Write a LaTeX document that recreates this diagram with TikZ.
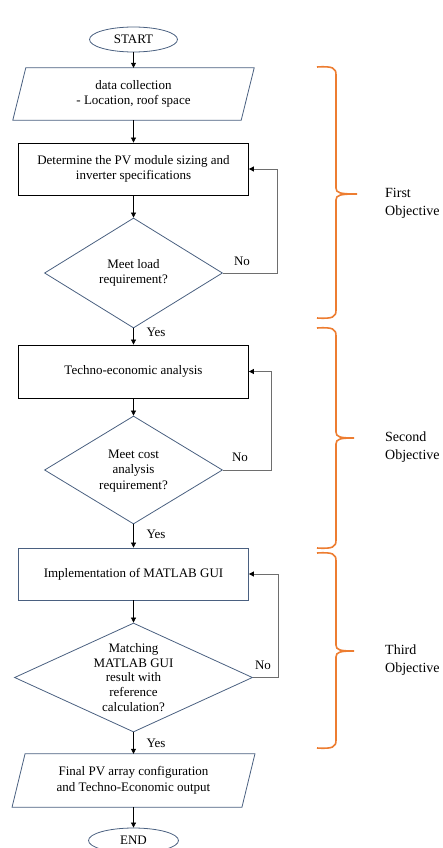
\documentclass[tikz,border=0pt]{standalone}
\usepackage{fontspec}
\setmainfont{Liberation Serif}
\usetikzlibrary{shapes.geometric,arrows.meta}
\definecolor{shapeblue}{RGB}{74,96,128}
\definecolor{loopgray}{RGB}{110,110,110}
\definecolor{braceorange}{RGB}{237,125,49}
\newcommand\objbrace[4]{% top, tip y, bottom, tip x
  \draw[brace] (317,#1) .. controls (333,#1-1) and (336,#1+1) .. (336,#1+8)
    -- (336,#2-6) .. controls (336,#2-1) and (340,#2) .. (#4,#2)
    .. controls (340,#2) and (336,#2+1) .. (336,#2+6)
    -- (336,#3-8) .. controls (336,#3-1) and (333,#3+1) .. (317,#3);}
\begin{document}
\begin{tikzpicture}[x=1pt,y=-1pt,
  every node/.style={font=\fontsize{13}{15.5}\selectfont},
  term/.style={ellipse,draw=shapeblue,line width=0.8pt,minimum width=88pt,minimum height=25pt,inner sep=0pt},
  procbox/.style={rectangle,draw=black,line width=0.8pt,minimum width=230pt,minimum height=52pt,align=center,inner sep=0pt},
  iobox/.style={rectangle,minimum width=228pt,minimum height=52pt,align=center,inner sep=0pt},
  decision/.style={diamond,draw=shapeblue,line width=0.8pt,inner sep=0pt},
  dtext/.style={align=center,inner sep=0pt},
  flow/.style={draw=black,line width=0.7pt,-{Triangle[length=5pt,width=5pt]}},
  backflow/.style={draw=loopgray,line width=0.8pt,-{Triangle[length=5pt,width=5pt,color=black]}},
  lbl/.style={inner sep=0pt},
  brace/.style={draw=braceorange,line width=1.6pt},
  objlabel/.style={align=left,inner sep=0pt,anchor=west,font=\fontsize{14}{18}\selectfont},
  para/.style={draw=shapeblue,line width=0.8pt}
]
\clip (0,0) rectangle (442,848);

% nodes
\node[term] (start) at (133.5,39.5) {START};
\node[iobox] (data) at (133.5,94) {data collection\\- Location, roof space};
\draw[para] ([xshift=6.5pt]data.north west) -- ([xshift=6.5pt]data.north east)
  -- ([xshift=-6.5pt]data.south east) -- ([xshift=-6.5pt]data.south west) -- cycle;
\node[procbox] (box1) at (133.5,169) {Determine the PV module sizing and\\inverter specifications};
\node[decision,minimum width=178pt,minimum height=110pt] (d1) at (133.5,273) {};
\node[dtext] (d1t) at (d1.center) {Meet load\\requirement?};
\node[procbox,minimum height=53pt] (box2) at (133.5,371.5) {Techno-economic analysis};
\node[decision,minimum width=178pt,minimum height=108pt] (d2) at (133.5,470) {};
\node[dtext] (d2t) at ([yshift=-1pt]d2.center) {Meet cost\\analysis\\requirement?};
\node[procbox,draw=shapeblue] (box3) at (133.5,574) {Implementation of MATLAB GUI};
\node[decision,minimum width=238pt,minimum height=109pt] (d3) at (133.5,677.5) {};
\node[dtext,font=\fontsize{13}{14.8}\selectfont] (d3t) at (d3.center) {Matching\\MATLAB GUI\\result with\\reference\\calculation?};
\node[iobox,minimum width=229.5pt,minimum height=53pt] (out) at (133.5,780.5) {Final PV array configuration\\and Techno-Economic output};
\draw[para] ([xshift=6.5pt]out.north west) -- ([xshift=6.5pt]out.north east)
  -- ([xshift=-6.5pt]out.south east) -- ([xshift=-6.5pt]out.south west) -- cycle;
\node[term,minimum width=90pt] (end) at (133.5,840.5) {END};

% main flow
\draw[flow] (start) -- (data);
\draw[flow] (data) -- (box1);
\draw[flow] (box1) -- (d1);
\draw[flow] (d1) -- (box2);
\draw[flow] (box2) -- (d2);
\draw[flow] (d2) -- (box3);
\draw[flow] (box3) -- (d3);
\draw[flow] (d3) -- (out);
\draw[flow] (out) -- (end);

% feedback loops
\draw[backflow] (d1.east) -- ++(54,0) |- (box1.east);
\draw[backflow] (d2.east) -- ++(48.5,0) |- (box2.east);
\draw[backflow] (d3.east) -- ++(25.5,0) |- (box3.east);

% labels
\node[lbl] (no1) at (242,261) {No};
\node[lbl] (no2) at (240,457) {No};
\node[lbl] (no3) at (263,665) {No};
\node[lbl] (yes1) at (156,332) {Yes};
\node[lbl] (yes2) at (156,534) {Yes};
\node[lbl] (yes3) at (156,743) {Yes};

% braces
\objbrace{67}{194}{318}{357}
\objbrace{328}{438}{548}{354}
\objbrace{553}{651}{748}{354}

\node[objlabel] (obj1) at (385,203) {First\\Objective};
\node[objlabel] (obj2) at (385,447.5) {Second\\Objective};
\node[objlabel] (obj3) at (385,660) {Third\\Objective};
\end{tikzpicture}
\end{document}
